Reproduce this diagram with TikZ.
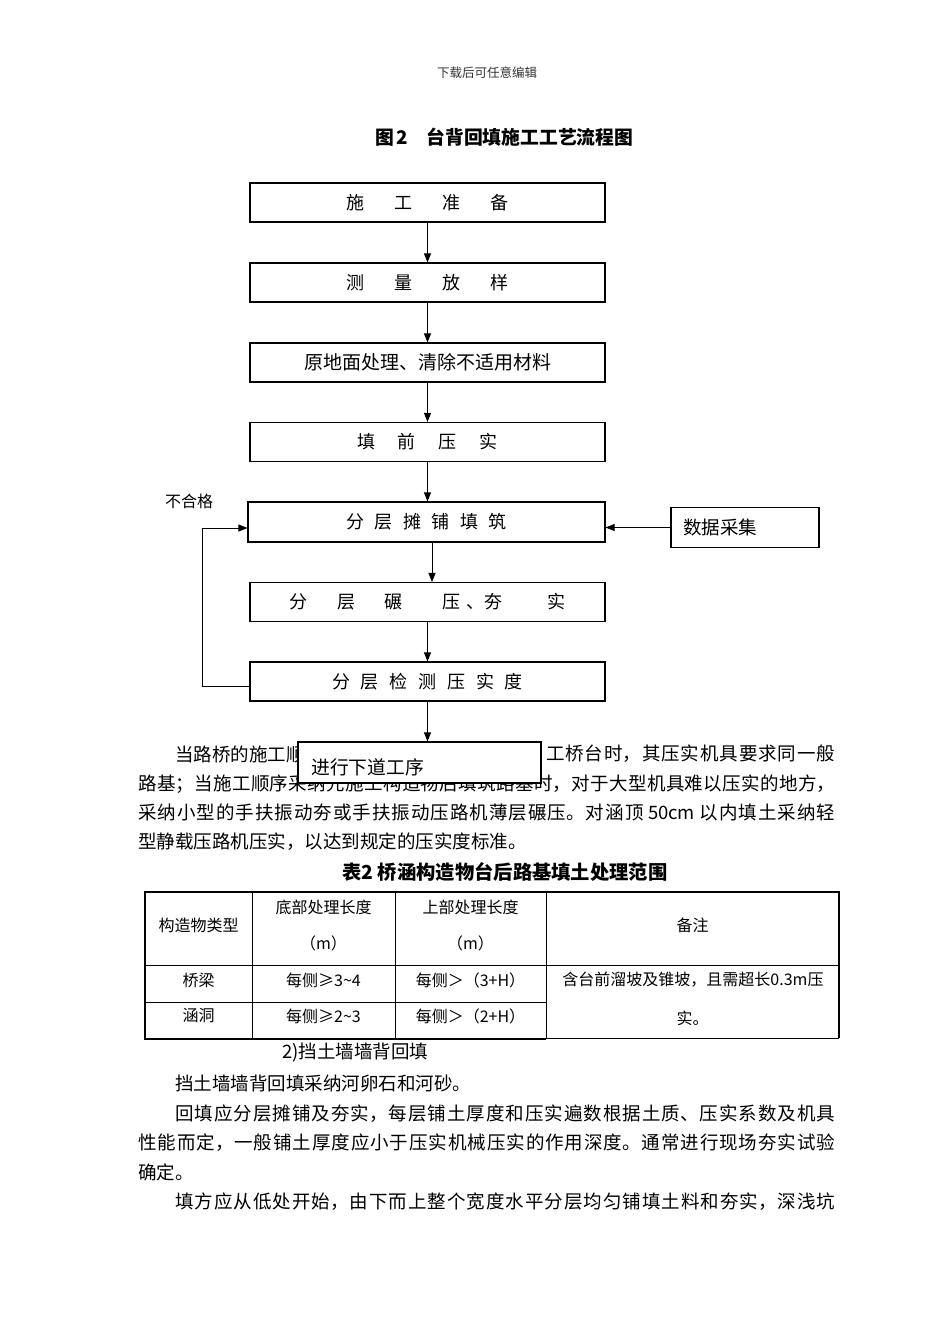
\documentclass[tikz,border=0pt]{standalone}
\usepackage{fontspec}
\setmainfont{Noto Sans CJK SC}
\XeTeXlinebreaklocale "zh"
\XeTeXlinebreakskip=0pt plus 6pt minus 0.3pt
\usetikzlibrary{arrows.meta}
\newcommand{\fs}[1]{\fontsize{#1}{#1}\selectfont}
\newcommand{\jline}[2]{\parbox{#1}{\parfillskip=0pt\relax\parindent=0pt\relax\emergencystretch=20pt\relax #2}}
\tikzset{
  flowbox/.style={draw, line width=1.1pt, minimum width=355pt, minimum height=39pt, inner sep=0pt, font=\fs{18}},
  arr/.style={-{Triangle[length=9pt,width=7pt]}, line width=0.9pt},
  txt/.style={inner sep=0pt, font=\fs{18.5}},
  cell/.style={inner sep=0pt, font=\fs{16}},
  thinrule/.style={line width=0.9pt},
  thickrule/.style={line width=2.2pt},
}
\begin{document}
\begin{tikzpicture}[x=1pt,y=-1pt]
\fill[white] (0,0) rectangle (950,1344);
\useasboundingbox (0,0) rectangle (950,1344);

% header and title
\node[inner sep=0pt, font=\fs{12.5}, text=black!80] (hdr) at (487,73) {下载后可任意编辑};
\node[inner sep=0pt, font=\fs{18.8}\bfseries, anchor=west] (title) at (375,137) {图\hspace{3pt}2\hspace{18pt}台背回填施工工艺流程图};

% flow boxes
\node[flowbox] (b1) at (427.5,202.5) {施\hspace{30pt}工\hspace{30pt}准\hspace{30pt}备};
\node[flowbox] (b2) at (427.5,282.5) {测\hspace{30pt}量\hspace{30pt}放\hspace{30pt}样};
\node[flowbox, font=\fs{19}] (b3) at (427.5,362.5) {原地面处理、清除不适用材料};
\node[flowbox] (b4) at (427.5,442) {填\hspace{23pt}前\hspace{23pt}压\hspace{23pt}实};
\node[flowbox, minimum width=357pt, minimum height=40pt] (b5) at (426.5,522) {分\hspace{10.6pt}层\hspace{10.6pt}摊\hspace{10.6pt}铺\hspace{10.6pt}填\hspace{10.6pt}筑};
\node[flowbox] (b6) at (427.5,602) {分\hspace{30pt}层\hspace{29pt}碾\hspace{40pt}压\hspace{6pt}、\hspace{0pt}夯\hspace{45pt}实};
\node[flowbox] (b7) at (427.5,681.5) {分\hspace{10.8pt}层\hspace{10.8pt}检\hspace{10.8pt}测\hspace{10.8pt}压\hspace{10.8pt}实\hspace{10.8pt}度};

\node[draw, line width=1.1pt, minimum height=40pt, text width=124pt, inner xsep=12pt, inner ysep=0pt, align=left, font=\fs{18.5}] (ds) at (745,527.5) {数据采集};
\node[inner sep=0pt, font=\fs{16}] (ng) at (189,501) {不合格};

% paragraph 1
\node[txt, anchor=west] (p1a) at (175,754) {当路桥的施工顺};
\node[txt, anchor=west] (p1b) at (546,754) {\jline{289pt}{工桥台时，其压实机具要求同一般}};
\node[txt, anchor=west] (p2) at (138,784) {\jline{697pt}{路基；当施工顺序采纳先施工构造物后填筑路基时，对于大型机具难以压实的地方，}};
\node[txt, anchor=west] (p3) at (138,813) {\jline{697pt}{采纳小型的手扶振动夯或手扶振动压路机薄层碾压。对涵顶 50cm 以内填土采纳轻}};
\node[txt, anchor=west] (p4) at (138,842) {型静载压路机压实，以达到规定的压实度标准。};

% last box drawn over the paragraph
\node[draw, fill=white, line width=1.1pt, minimum width=243pt, minimum height=41pt, inner sep=0pt] (b8) at (419.5,762.5) {};
\node[txt, font=\fs{18.8}, anchor=west] (b8t) at (311,767) {进行下道工序};

% connectors
\draw[arr] (b1.south) -- (b2.north);
\draw[arr] (b2.south) -- (b3.north);
\draw[arr] (b3.south) -- (b4.north);
\draw[arr] (b4.south) -- (b4.south |- b5.north);
\draw[arr] ([xshift=5.5pt]b5.south) -- ([xshift=5.5pt]b5.south |- b6.north);
\draw[arr] (b6.south) -- (b7.north);
\draw[arr] (b7.south) -- (b7.south |- b8.north);
\draw[arr] (ds.west) -- (ds.west -| b5.east);
\coordinate (fbx) at (202,0);
\draw[arr] ([yshift=-4.5pt]b7.west) -- ([yshift=-4.5pt]b7.west -| fbx) -- ([yshift=-6pt]b5.west -| fbx) -- ([yshift=-6pt]b5.west);

% table title
\node[inner sep=0pt, font=\fs{19.3}\bfseries] (tt) at (505,872) {表2 桥涵构造物台后路基填土处理范围};

% table rules
\draw[thinrule] (252,892) -- (252,1039);
\draw[thinrule] (395,892) -- (395,1039);
\draw[thinrule] (546,892) -- (546,1039);
\draw[thinrule] (145,965) -- (839,965);
\draw[thinrule] (145,1002) -- (546,1002);
\draw[thinrule] (546,1038) -- (839,1038);
\draw[thickrule] (546,1039) -- (145,1039) -- (145,892) -- (839,892) -- (839,1038);

% table cells
\node[cell] (h1) at (198.5,925) {构造物类型};
\node[cell] (h2a) at (323.5,907) {底部处理长度};
\node[cell] (h2b) at (323.5,943) {（m）};
\node[cell] (h3a) at (470.5,907) {上部处理长度};
\node[cell] (h3b) at (470.5,943) {（m）};
\node[cell] (h4) at (692.5,925) {备注};
\node[cell] (r1a) at (198.5,980) {桥梁};
\node[cell] (r1b) at (323.5,980) {每侧≥3\textasciitilde 4};
\node[cell] (r1c) at (470.5,980) {每侧＞（3+H）};
\node[cell] (r1d) at (693,980) {含台前溜坡及锥坡，且需超长0.3m压};
\node[cell] (r2a) at (198.5,1016) {涵洞};
\node[cell] (r2b) at (323.5,1016) {每侧≥2\textasciitilde 3};
\node[cell] (r2c) at (470.5,1016) {每侧＞（2+H）};
\node[cell] (r2d) at (692.5,1018) {实。};

% lower text
\node[txt, anchor=west] (s1) at (282,1053) {2)挡土墙墙背回填};
\node[txt, anchor=west] (s2) at (175,1084) {挡土墙墙背回填采纳河卵石和河砂。};
\node[txt, anchor=west] (s3) at (175,1114) {\jline{660pt}{回填应分层摊铺及夯实，每层铺土厚度和压实遍数根据土质、压实系数及机具}};
\node[txt, anchor=west] (s4) at (138,1143) {\jline{697pt}{性能而定，一般铺土厚度应小于压实机械压实的作用深度。通常进行现场夯实试验}};
\node[txt, anchor=west] (s5) at (138,1172) {确定。};
\node[txt, anchor=west] (s6) at (175,1202) {\jline{660pt}{填方应从低处开始，由下而上整个宽度水平分层均匀铺填土料和夯实，深浅坑}};
\end{tikzpicture}
\end{document}
